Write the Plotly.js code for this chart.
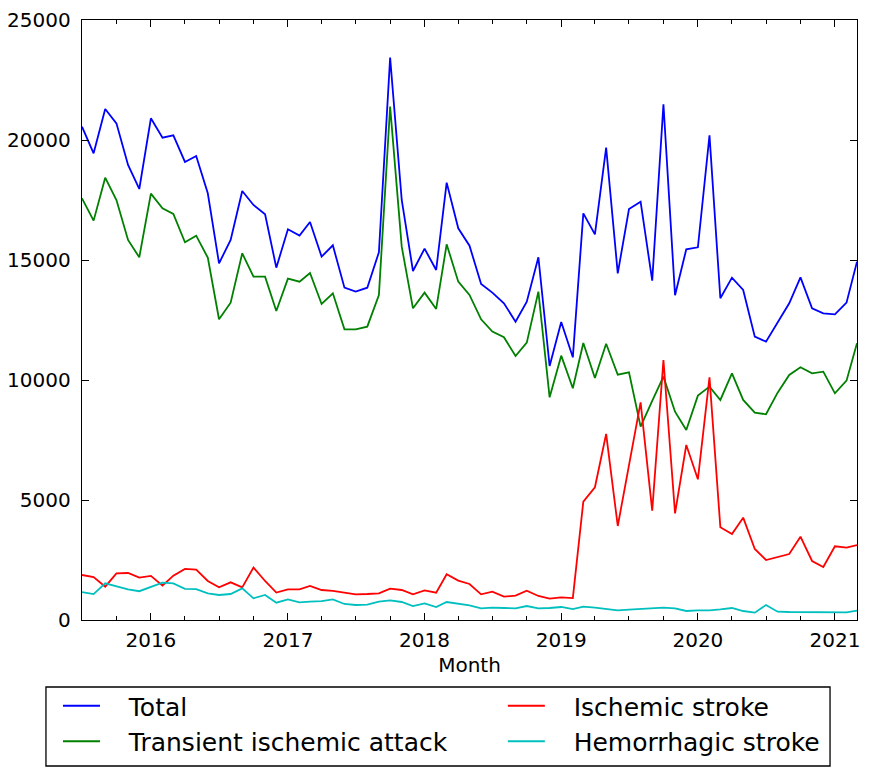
<!DOCTYPE html>
<html>
<head>
<meta charset="utf-8">
<script src="https://cdn.plot.ly/plotly-3.0.1.min.js"></script>
<style>
  html, body { margin: 0; padding: 0; background: white; }
  #chart { width: 876px; height: 774px; }
</style>
</head>
<body>
<div id="chart"></div>
<script>
const months = [
  '2015-07', '2015-08', '2015-09', '2015-10', '2015-11', '2015-12',
  '2016-01', '2016-02', '2016-03', '2016-04', '2016-05', '2016-06', '2016-07', '2016-08', '2016-09', '2016-10', '2016-11', '2016-12',
  '2017-01', '2017-02', '2017-03', '2017-04', '2017-05', '2017-06', '2017-07', '2017-08', '2017-09', '2017-10', '2017-11', '2017-12',
  '2018-01', '2018-02', '2018-03', '2018-04', '2018-05', '2018-06', '2018-07', '2018-08', '2018-09', '2018-10', '2018-11', '2018-12',
  '2019-01', '2019-02', '2019-03', '2019-04', '2019-05', '2019-06', '2019-07', '2019-08', '2019-09', '2019-10', '2019-11', '2019-12',
  '2020-01', '2020-02', '2020-03', '2020-04', '2020-05', '2020-06', '2020-07', '2020-08', '2020-09', '2020-10', '2020-11', '2020-12',
  '2021-01', '2021-02', '2021-03'
]

const total = [
  20556, 19445, 21292, 20695, 18959, 17959,
  20903, 20098, 20195, 19084, 19334, 17779, 14862, 15834, 17876, 17293, 16904, 14681,
  16279, 16014, 16584, 15139, 15612, 13847, 13681, 13847, 15321, 23431, 17501, 14542,
  15473, 14584, 18223, 16320, 15598, 14001, 13640, 13196, 12432, 13265, 15112, 10584,
  12418, 10945, 16945, 16070, 19681, 14445, 17126, 17431, 14139, 21489, 13529, 15446,
  15529, 20195, 13404, 14264, 13751, 11806, 11598, 12390, 13196, 14278, 12987, 12779,
  12737, 13223, 14931
]

const tia = [
  17571, 16640, 18431, 17501, 15834, 15112,
  17765, 17154, 16918, 15737, 16014, 15098, 12530, 13223, 15279, 14306, 14306, 12876,
  14223, 14098, 14459, 13168, 13612, 12113, 12113, 12223, 13543, 21390, 15556, 12987,
  13640, 12960, 15653, 14098, 13543, 12530, 12015, 11779, 11001, 11557, 13681, 9279,
  11015, 9654, 11540, 10085, 11510, 10220, 10320, 8055, 9126, 10140, 8681, 7918,
  9348, 9723, 9168, 10279, 9168, 8640, 8571, 9473, 10209, 10529, 10279, 10348,
  9445, 9973, 11530
]

const ischemic = [
  1875, 1790, 1389, 1945, 1958, 1764,
  1840, 1431, 1848, 2130, 2100, 1625, 1361, 1570, 1361, 2185, 1625, 1145,
  1278, 1278, 1420, 1250, 1210, 1125, 1069, 1083, 1111, 1306, 1250, 1069,
  1236, 1139, 1903, 1639, 1500, 1069, 1181, 972, 1014, 1222, 1000, 889,
  945, 910, 4931, 5529, 7751, 3917, 6400, 9071, 4556, 10834, 4445, 7292,
  5862, 10112, 3862, 3584, 4264, 2959, 2500, 2639, 2750, 3472, 2459, 2209,
  3070, 3014, 3125
]

const hemorrhagic = [
  1160, 1080, 1528, 1389, 1278, 1200,
  1389, 1556, 1528, 1300, 1285, 1111, 1042, 1083, 1319, 903, 1042, 722,
  861, 736, 764, 790, 861, 667, 625, 639, 764, 820, 750, 583,
  694, 542, 750, 667, 611, 486, 514, 500, 486, 583, 486, 500,
  542, 450, 556, 514, 458, 403, 431, 458, 514, 514, 486, 375,
  403, 403, 444, 500, 375, 306, 625, 347, 333, 333, 347, 319,
  347, 319, 389
]

const seriesNames = ['Total', 'Transient ischemic attack', 'Ischemic stroke', 'Hemorrhagic stroke']
const seriesColors = ['#0000ff', '#008000', '#ff0000', '#00bfbf']
const seriesLegends = ['legend', 'legend', 'legend2', 'legend2']

const font = 'DejaVu Sans, Liberation Sans, sans-serif'
// matplotlib leaves a wider gap between handle and label than plotly does
const labelPad = '\u00a0\u00a0\u00a0'

const data = [total, tia, ischemic, hemorrhagic].map((values, i) => ({
  x: months,
  y: values,
  name: labelPad + seriesNames[i],
  type: 'scatter',
  mode: 'lines',
  line: { color: seriesColors[i], width: 1.8 },
  legend: seriesLegends[i],
}))

function legendBox (x) {
  return {
    x,
    xanchor: 'left',
    y: -0.105,
    yanchor: 'top',
    orientation: 'v',
    bgcolor: 'rgba(0,0,0,0)',
    borderwidth: 0,
    itemwidth: 37,
    tracegroupgap: 0,
    font: { family: font, size: 25, color: 'black' },
  }
}

const axisCommon = {
  showgrid: false,
  zeroline: false,
  showline: true,
  linecolor: 'black',
  linewidth: 1.3,
  mirror: 'allticks',
  ticks: 'inside',
  ticklen: 7,
  tickwidth: 1,
  tickcolor: 'black',
  tickfont: { family: font, size: 20, color: 'black' },
  fixedrange: true,
}

const layout = {
  width: 876,
  height: 774,
  margin: { l: 82, r: 19, t: 20, b: 154, autoexpand: false },
  paper_bgcolor: 'white',
  plot_bgcolor: 'white',
  font: { family: font, color: 'black' },
  showlegend: true,
  xaxis: {
    ...axisCommon,
    type: 'date',
    range: ['2015-07-01', '2021-03-01'],
    tick0: '2016-01-01',
    dtick: 'M12',
    tickformat: '%Y',
    ticklabelstandoff: 2,
    minor: {
      tick0: '2016-01-01',
      dtick: 'M3',
      ticks: 'inside',
      ticklen: 4,
      tickwidth: 1,
      tickcolor: 'black',
      showgrid: false,
    },
    title: { text: 'Month', font: { family: font, size: 20, color: 'black' }, standoff: 6 },
  },
  yaxis: {
    ...axisCommon,
    range: [0, 25000],
    dtick: 5000,
    tickformat: 'd',
    ticklabelstandoff: 6,
  },
  legend: legendBox(-0.031),
  legend2: legendBox(0.543),
  shapes: [{
    type: 'rect',
    xref: 'paper',
    yref: 'paper',
    x0: -0.0465,
    x1: 0.9652,
    y0: -0.1117,
    y1: -0.2433,
    line: { color: 'black', width: 1.3 },
  }],
}

const config = {
  displayModeBar: false,
  responsive: false,
  staticPlot: true,
}

Plotly.newPlot('chart', data, layout, config)
</script>
</body>
</html>
